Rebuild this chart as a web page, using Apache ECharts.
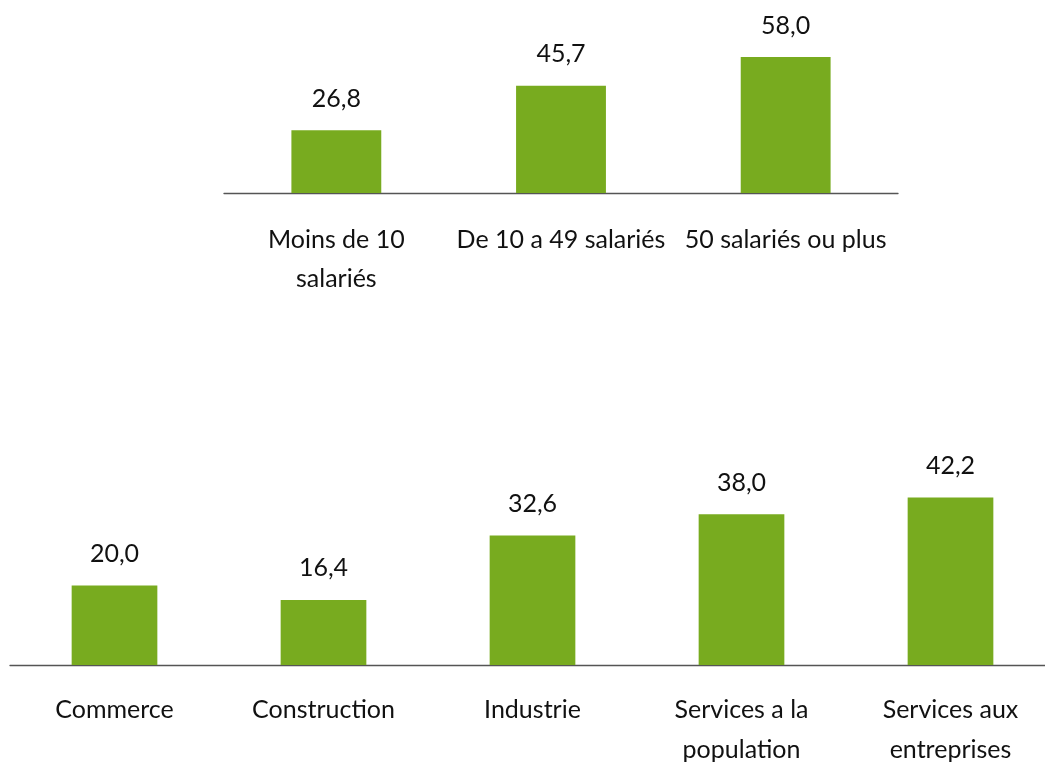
<!DOCTYPE html>
<html>
<head>
<meta charset="utf-8">
<script src="https://cdn.jsdelivr.net/npm/echarts@6/dist/echarts.min.js"></script>
<style>
html,body{margin:0;padding:0;background:#fff;}
#c{width:1045px;height:764px;}
</style>
</head>
<body>
<div id="c"></div>
<script>
const sizeCategories = ['Moins de 10\nsalariés', 'De 10 a 49 salariés', '50 salariés ou plus'];
const sizeValues = [26.8, 45.7, 58.0];
const sectorCategories = ['Commerce', 'Construction', 'Industrie', 'Services a la\npopulation', 'Services aux\nentreprises'];
const sectorValues = [20.0, 16.4, 32.6, 38.0, 42.2];

const FONT = 'Lato';
const GREEN = '#78AB1F';
const fmt = p => p.value.toFixed(1).replace('.', ',');

const chart = echarts.init(document.getElementById('c'), null, {renderer: 'canvas'});
const xAxisCommon = {
  type: 'category',
  axisLine: {lineStyle: {color: '#555', width: 1.3}},
  axisTick: {show: false},
  axisLabel: {color: '#111', fontFamily: FONT, fontSize: 25, lineHeight: 39, interval: 0}
};
const yAxisCommon = {type: 'value', min: 0, show: false, splitLine: {show: false}};
chart.setOption({
  animation: false,
  backgroundColor: '#fff',
  grid: [
    {left: 224, width: 674, top: 52.3, height: 140.7, outerBoundsMode: 'none', containLabel: false},
    {left: 10, width: 1045, top: 466.5, height: 198.5, outerBoundsMode: 'none', containLabel: false}
  ],
  xAxis: [
    Object.assign({}, xAxisCommon, {gridIndex: 0, data: sizeCategories, axisLabel: Object.assign({}, xAxisCommon.axisLabel, {margin: 27})}),
    Object.assign({}, xAxisCommon, {gridIndex: 1, data: sectorCategories, axisLabel: Object.assign({}, xAxisCommon.axisLabel, {margin: 25, lineHeight: 40})})
  ],
  yAxis: [
    Object.assign({}, yAxisCommon, {gridIndex: 0, max: 60}),
    Object.assign({}, yAxisCommon, {gridIndex: 1, max: 50})
  ],
  series: [
    {type: 'bar', xAxisIndex: 0, yAxisIndex: 0, data: sizeValues, barWidth: '40%',
     itemStyle: {color: GREEN},
     label: {show: true, position: 'top', distance: 19, formatter: fmt, color: '#111', fontFamily: FONT, fontSize: 25}},
    {type: 'bar', xAxisIndex: 1, yAxisIndex: 1, data: sectorValues, barWidth: '41%',
     itemStyle: {color: GREEN},
     label: {show: true, position: 'top', distance: 19, formatter: fmt, color: '#111', fontFamily: FONT, fontSize: 25}}
  ]
});
</script>
</body>
</html>
